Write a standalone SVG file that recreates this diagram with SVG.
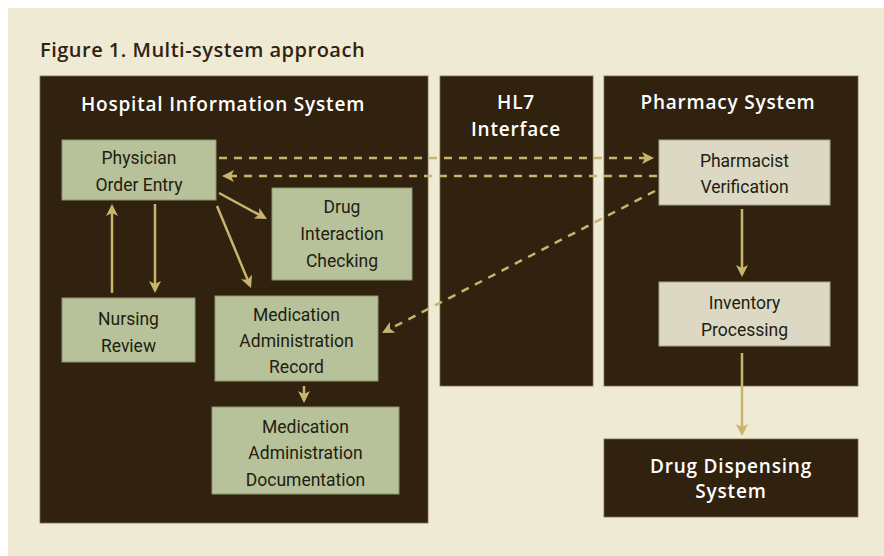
<svg xmlns="http://www.w3.org/2000/svg" width="884" height="556" viewBox="0 0 884 556">
  <style>
    .sys { fill: #30220f; stroke: #7a6a4a; stroke-width: 0.8; }
    .hdr { font-family: "Open Sans", Lato, "DejaVu Sans", sans-serif; font-weight: 600; font-size: 19px; letter-spacing: 0.8px; fill: #ffffff; text-anchor: middle; }
    .title { font-family: "Open Sans", Lato, "DejaVu Sans", sans-serif; font-weight: 600; font-size: 20px; letter-spacing: 0.5px; fill: #2f2210; }
    .green { fill: #b8c29a; stroke: #8e936e; stroke-width: 1; }
    .light { fill: #dcd8c4; stroke: #a8a38c; stroke-width: 1; }
    .lbl { font-family: Roboto, "Liberation Sans", sans-serif; font-size: 17.5px; fill: #221d12; text-anchor: middle; }
    .solid { stroke: #c8b46c; stroke-width: 2.5; fill: none; marker-end: url(#ah); }
    .dash { stroke: #c8b46c; stroke-width: 2.5; fill: none; stroke-dasharray: 8 7; marker-end: url(#ah); }
  </style>
  <defs>
    <marker id="ah" viewBox="0 0 12 12" refX="9" refY="6" markerWidth="12" markerHeight="12" markerUnits="userSpaceOnUse" orient="auto">
      <path d="M0,0 L12,6 L0,12 L3,6 z" fill="#c8b46c"/>
    </marker>
  </defs>
  <rect x="0" y="0" width="884" height="556" fill="#ffffff"/>
  <rect x="8" y="8" width="876" height="548" fill="#efead4"/>
  <text class="title" x="40" y="57">Figure 1. Multi-system approach</text>

  <g id="his">
    <rect class="sys" x="40" y="76" width="388" height="447"/>
    <text class="hdr" x="223" y="111">Hospital Information System</text>
  </g>
  <g id="hl7">
    <rect class="sys" x="440" y="76" width="153" height="310"/>
    <text class="hdr" x="516" y="109">HL7</text>
    <text class="hdr" x="516" y="136">Interface</text>
  </g>
  <g id="pharmacy">
    <rect class="sys" x="604" y="76" width="254" height="310"/>
    <text class="hdr" x="728" y="109">Pharmacy System</text>
  </g>
  <g id="dispensing">
    <rect class="sys" x="604" y="439" width="254" height="78"/>
    <text class="hdr" x="731" y="473">Drug Dispensing</text>
    <text class="hdr" x="731" y="498">System</text>
  </g>

  <g id="poe">
    <rect class="green" x="62" y="140" width="154" height="60"/>
    <text class="lbl" x="139" y="164">Physician</text>
    <text class="lbl" x="139" y="191">Order Entry</text>
  </g>
  <g id="dic">
    <rect class="green" x="272" y="188" width="140" height="92"/>
    <text class="lbl" x="342" y="213">Drug</text>
    <text class="lbl" x="342" y="240">Interaction</text>
    <text class="lbl" x="342" y="267">Checking</text>
  </g>
  <g id="nursing">
    <rect class="green" x="62" y="298" width="133" height="64"/>
    <text class="lbl" x="128.5" y="325">Nursing</text>
    <text class="lbl" x="128.5" y="352">Review</text>
  </g>
  <g id="mar">
    <rect class="green" x="215" y="296" width="163" height="85"/>
    <text class="lbl" x="296.5" y="321">Medication</text>
    <text class="lbl" x="296.5" y="347">Administration</text>
    <text class="lbl" x="296.5" y="373">Record</text>
  </g>
  <g id="mad">
    <rect class="green" x="212" y="407" width="187" height="87"/>
    <text class="lbl" x="305.5" y="433">Medication</text>
    <text class="lbl" x="305.5" y="459">Administration</text>
    <text class="lbl" x="305.5" y="486">Documentation</text>
  </g>
  <g id="pv">
    <rect class="light" x="659" y="140" width="171" height="65"/>
    <text class="lbl" x="744.5" y="167">Pharmacist</text>
    <text class="lbl" x="744.5" y="193">Verification</text>
  </g>
  <g id="ip">
    <rect class="light" x="659" y="282" width="171" height="64"/>
    <text class="lbl" x="744.5" y="309">Inventory</text>
    <text class="lbl" x="744.5" y="336">Processing</text>
  </g>

  <g id="connectors">
    <path class="dash" d="M219,158 L651,158"/>
    <path class="dash" d="M657,176 L225,176"/>
    <path class="dash" d="M655,191 L384.7,331.6"/>
    <path class="solid" d="M219,193 L264.4,217.6"/>
    <path class="solid" d="M217,206 L249.9,285.2"/>
    <path class="solid" d="M112,293 L112,207"/>
    <path class="solid" d="M155,204 L155,290"/>
    <path class="solid" d="M304,386 L304,400"/>
    <path class="solid" d="M742,209 L742,274"/>
    <path class="solid" d="M742,353 L742,433"/>
  </g>
</svg>
